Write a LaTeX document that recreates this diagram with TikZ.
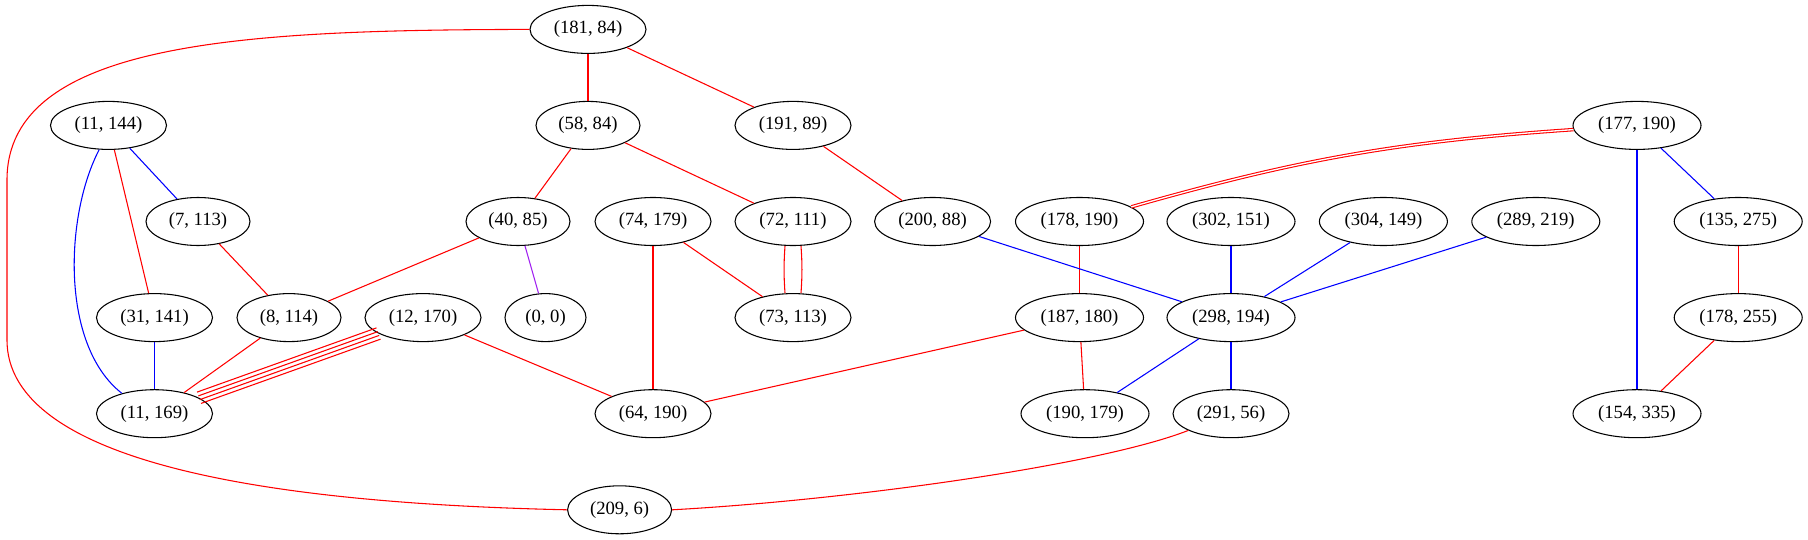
\documentclass[tikz,border=0pt]{standalone}
\usepackage{fontspec}
\setmainfont{Liberation Serif}
\usetikzlibrary{shapes.geometric}
\definecolor{gvpurple}{RGB}{160,32,240}
\begin{document}
\begin{tikzpicture}[x=0.75pt,y=-0.75pt,
  nd/.style={draw=black, ellipse, line width=0.8pt, inner sep=0pt, minimum height=36pt, font=\fontsize{14}{16}\selectfont},
  d2/.style={nd, minimum width=60.75pt},
  d4/.style={nd, minimum width=78pt},
  d5/.style={nd, minimum width=87pt},
  d6/.style={nd, minimum width=96pt},
  re/.style={draw=red, line width=0.8pt},
  be/.style={draw=blue, line width=0.8pt},
  pe/.style={draw=gvpurple, line width=0.8pt},
]
\useasboundingbox (0,0) rectangle (1808,539);
% row 0
\node[d5] (n181_84) at (588,29.4) {(181, 84)};
% row 1
\node[d5] (n11_144) at (108.5,125.4) {(11, 144)};
\node[d4] (n58_84) at (588,125.4) {(58, 84)};
\node[d5] (n191_89) at (793,125.4) {(191, 89)};
\node[d6] (n177_190) at (1637,125.4) {(177, 190)};
% row 2
\node[d4] (n7_113) at (198,221.5) {(7, 113)};
\node[d4] (n40_85) at (518,221.5) {(40, 85)};
\node[d5] (n74_179) at (653,221.5) {(74, 179)};
\node[d5] (n72_111) at (793,221.5) {(72, 111)};
\node[d5] (n200_88) at (932.6,221.5) {(200, 88)};
\node[d6] (n178_190) at (1079.5,221.5) {(178, 190)};
\node[d6] (n302_151) at (1231,221.5) {(302, 151)};
\node[d6] (n304_149) at (1383.4,221.5) {(304, 149)};
\node[d6] (n289_219) at (1535.8,221.5) {(289, 219)};
\node[d6] (n135_275) at (1738.2,221.5) {(135, 275)};
% row 3
\node[d5] (n31_141) at (154.5,317.6) {(31, 141)};
\node[d4] (n8_114) at (289,317.6) {(8, 114)};
\node[d5] (n12_170) at (423,317.6) {(12, 170)};
\node[d2] (n0_0) at (545.5,317.6) {(0, 0)};
\node[d5] (n73_113) at (793,317.6) {(73, 113)};
\node[d6] (n187_180) at (1079.5,317.6) {(187, 180)};
\node[d6] (n298_194) at (1231,317.6) {(298, 194)};
\node[d6] (n178_255) at (1738.2,317.6) {(178, 255)};
% row 4
\node[d5] (n11_169) at (154.5,413.7) {(11, 169)};
\node[d5] (n64_190) at (653,413.7) {(64, 190)};
\node[d6] (n190_179) at (1085,413.7) {(190, 179)};
\node[d5] (n291_56) at (1231,413.7) {(291, 56)};
\node[d6] (n154_335) at (1637,413.7) {(154, 335)};
% row 5
\node[d4] (n209_6) at (619.6,509.8) {(209, 6)};

% edges
\draw[re] (n181_84) -- (n58_84);
\draw[re] (n181_84) -- (n191_89);
\draw[re] (n181_84.west) .. controls (250,30) and (7,40) .. (7,180) -- (7,340) .. controls (7,420) and (120,500) .. (n209_6.west);
\draw[re] (n58_84) -- (n40_85);
\draw[re] (n58_84) -- (n72_111);
\draw[re] (n191_89) -- (n200_88);
\draw[be] (n11_144) -- (n7_113);
\draw[re] (n11_144) -- (n31_141);
\draw[be] (n11_144.-111) .. controls (65,215) and (60,345) .. (n11_169.148);
\draw[re] (n7_113) -- (n8_114);
\draw[re] (n40_85) -- (n8_114);
\draw[pe] (n40_85) -- (n0_0);
\draw[be] (n31_141) -- (n11_169);
\draw[re] (n8_114) -- (n11_169);
\draw[re, transform canvas={shift={(1.52pt,-4.23pt)}}] (n12_170) -- (n11_169);
\draw[re, transform canvas={shift={(0.51pt,-1.41pt)}}] (n12_170) -- (n11_169);
\draw[re, transform canvas={shift={(-0.51pt,1.41pt)}}] (n12_170) -- (n11_169);
\draw[re, transform canvas={shift={(-1.52pt,4.23pt)}}] (n12_170) -- (n11_169);
\draw[re] (n12_170) -- (n64_190);
\draw[re] (n74_179) -- (n64_190);
\draw[re] (n74_179) -- (n73_113);
\draw[re] ([xshift=-6pt]n72_111.south) to[bend right=4] ([xshift=-6pt]n73_113.north);
\draw[re] ([xshift=6pt]n72_111.south) to[bend left=4] ([xshift=6pt]n73_113.north);
\draw[re, double=white, double distance=1pt] (n177_190) to[bend right=6] (n178_190);
\draw[be] (n177_190) -- (n135_275);
\draw[be] (n177_190) -- (n154_335);
\draw[re] (n135_275) -- (n178_255);
\draw[re] (n178_255) -- (n154_335);
\draw[re] (n178_190) -- (n187_180);
\draw[re] (n187_180) -- (n64_190);
\draw[re] (n187_180) -- (n190_179);
\draw[be] (n200_88) -- (n298_194);
\draw[be] (n302_151) -- (n298_194);
\draw[be] (n304_149) -- (n298_194);
\draw[be] (n289_219) -- (n298_194);
\draw[be] (n298_194) -- (n190_179);
\draw[be] (n298_194) -- (n291_56);
\draw[re] (n291_56) .. controls (1100,465) and (850,500) .. (n209_6.east);
\end{tikzpicture}
\end{document}
